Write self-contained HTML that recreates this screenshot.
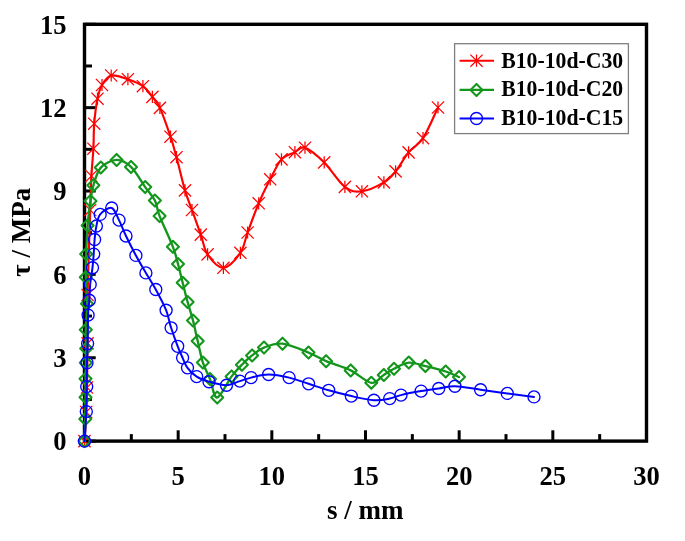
<!DOCTYPE html>
<html><head><meta charset="utf-8"><title>chart</title>
<style>
html,body{margin:0;padding:0;background:#fff;}
body{width:685px;height:541px;overflow:hidden;}
svg{display:block;}
text{font-family:"Liberation Serif",serif;font-weight:bold;fill:#000;}
.tk{font-size:26.6px;}
.lg{font-size:21.75px;}
.ax{font-size:27px;}
</style></head><body>
<svg width="685" height="541" viewBox="0 0 685 541">
<rect x="0" y="0" width="685" height="541" fill="#fff"/>

<rect x="84.50" y="24.30" width="562.00" height="416.80" fill="none" stroke="#000" stroke-width="3.4"/>
<line x1="84.50" y1="441.10" x2="84.50" y2="430.30" stroke="#000" stroke-width="3"/>
<line x1="131.33" y1="441.10" x2="131.33" y2="434.10" stroke="#000" stroke-width="3"/>
<line x1="178.17" y1="441.10" x2="178.17" y2="430.30" stroke="#000" stroke-width="3"/>
<line x1="225.00" y1="441.10" x2="225.00" y2="434.10" stroke="#000" stroke-width="3"/>
<line x1="271.83" y1="441.10" x2="271.83" y2="430.30" stroke="#000" stroke-width="3"/>
<line x1="318.67" y1="441.10" x2="318.67" y2="434.10" stroke="#000" stroke-width="3"/>
<line x1="365.50" y1="441.10" x2="365.50" y2="430.30" stroke="#000" stroke-width="3"/>
<line x1="412.33" y1="441.10" x2="412.33" y2="434.10" stroke="#000" stroke-width="3"/>
<line x1="459.17" y1="441.10" x2="459.17" y2="430.30" stroke="#000" stroke-width="3"/>
<line x1="506.00" y1="441.10" x2="506.00" y2="434.10" stroke="#000" stroke-width="3"/>
<line x1="552.83" y1="441.10" x2="552.83" y2="430.30" stroke="#000" stroke-width="3"/>
<line x1="599.67" y1="441.10" x2="599.67" y2="434.10" stroke="#000" stroke-width="3"/>
<line x1="646.50" y1="441.10" x2="646.50" y2="430.30" stroke="#000" stroke-width="3"/>
<line x1="84.50" y1="441.10" x2="95.70" y2="441.10" stroke="#000" stroke-width="3"/>
<line x1="84.50" y1="399.42" x2="92.00" y2="399.42" stroke="#000" stroke-width="3"/>
<line x1="84.50" y1="357.74" x2="95.70" y2="357.74" stroke="#000" stroke-width="3"/>
<line x1="84.50" y1="316.06" x2="92.00" y2="316.06" stroke="#000" stroke-width="3"/>
<line x1="84.50" y1="274.38" x2="95.70" y2="274.38" stroke="#000" stroke-width="3"/>
<line x1="84.50" y1="232.70" x2="92.00" y2="232.70" stroke="#000" stroke-width="3"/>
<line x1="84.50" y1="191.02" x2="95.70" y2="191.02" stroke="#000" stroke-width="3"/>
<line x1="84.50" y1="149.34" x2="92.00" y2="149.34" stroke="#000" stroke-width="3"/>
<line x1="84.50" y1="107.66" x2="95.70" y2="107.66" stroke="#000" stroke-width="3"/>
<line x1="84.50" y1="65.98" x2="92.00" y2="65.98" stroke="#000" stroke-width="3"/>
<line x1="84.50" y1="24.30" x2="95.70" y2="24.30" stroke="#000" stroke-width="3"/>
<text class="tk" transform="translate(84.50,484.6) scale(1,1.035)" text-anchor="middle">0</text>
<text class="tk" transform="translate(178.17,484.6) scale(1,1.035)" text-anchor="middle">5</text>
<text class="tk" transform="translate(271.83,484.6) scale(1,1.035)" text-anchor="middle">10</text>
<text class="tk" transform="translate(365.50,484.6) scale(1,1.035)" text-anchor="middle">15</text>
<text class="tk" transform="translate(459.17,484.6) scale(1,1.035)" text-anchor="middle">20</text>
<text class="tk" transform="translate(552.83,484.6) scale(1,1.035)" text-anchor="middle">25</text>
<text class="tk" transform="translate(646.50,484.6) scale(1,1.035)" text-anchor="middle">30</text>
<text class="tk" transform="translate(66.6,450.30) scale(1,1.035)" text-anchor="end">0</text>
<text class="tk" transform="translate(66.6,366.94) scale(1,1.035)" text-anchor="end">3</text>
<text class="tk" transform="translate(66.6,283.58) scale(1,1.035)" text-anchor="end">6</text>
<text class="tk" transform="translate(66.6,200.22) scale(1,1.035)" text-anchor="end">9</text>
<text class="tk" transform="translate(66.6,116.86) scale(1,1.035)" text-anchor="end">12</text>
<text class="tk" transform="translate(66.6,33.50) scale(1,1.035)" text-anchor="end">15</text>
<text class="ax" transform="translate(365.3,518.6) scale(1,1.03)" text-anchor="middle">s / mm</text>
<text class="ax" transform="translate(30.3,232.3) rotate(-90) scale(1,1.03)" text-anchor="middle">τ / MPa</text>
<path d="M84.50 441.10 C84.78 436.25 85.78 420.93 86.20 412.00 C86.62 403.07 86.77 398.95 87.00 387.50 C87.23 376.05 87.50 358.72 87.60 343.30 C87.70 327.88 87.17 317.22 87.60 295.00 C88.03 272.78 89.57 229.83 90.20 210.00 C90.83 190.17 90.87 186.22 91.40 176.00 C91.93 165.78 92.93 157.42 93.40 148.70 C93.87 139.98 93.52 132.03 94.20 123.70 C94.88 115.37 96.20 105.15 97.50 98.70 C98.80 92.25 99.72 88.87 102.00 85.00 C104.28 81.13 106.88 76.47 111.20 75.50 C115.52 74.53 122.62 77.42 127.90 79.20 C133.18 80.98 138.82 83.25 142.90 86.20 C146.98 89.15 149.57 93.28 152.40 96.90 C155.23 100.52 156.88 101.27 159.90 107.90 C162.92 114.53 167.73 128.48 170.50 136.70 C173.27 144.92 174.08 148.25 176.50 157.20 C178.92 166.15 182.42 181.60 185.00 190.40 C187.58 199.20 189.37 202.63 192.00 210.00 C194.63 217.37 198.20 227.20 200.80 234.60 C203.40 242.00 203.83 248.87 207.60 254.40 C211.37 259.93 217.93 268.07 223.40 267.80 C228.87 267.53 236.37 258.68 240.40 252.80 C244.43 246.92 244.55 240.75 247.60 232.50 C250.65 224.25 254.93 212.17 258.70 203.30 C262.47 194.43 266.40 186.62 270.20 179.30 C274.00 171.98 277.38 163.92 281.50 159.40 C285.62 154.88 290.98 154.15 294.90 152.20 C298.82 150.25 300.12 146.00 305.00 147.70 C309.88 149.40 317.55 155.87 324.20 162.40 C330.85 168.93 338.62 182.08 344.90 186.90 C351.18 191.72 355.40 192.05 361.90 191.30 C368.40 190.55 378.28 185.72 383.90 182.40 C389.52 179.08 391.48 176.40 395.60 171.40 C399.72 166.40 404.03 157.93 408.60 152.40 C413.17 146.87 418.10 145.68 423.00 138.20 C427.90 130.72 435.50 112.62 438.00 107.50" fill="none" stroke="#ff0000" stroke-width="2.15" stroke-linejoin="round" stroke-linecap="round"/>
<path d="M78.40 435.00L90.60 447.20M78.40 447.20L90.60 435.00M84.50 435.00L84.50 447.20" stroke="#ff0000" stroke-width="1.25" fill="none"/>
<path d="M80.10 405.90L92.30 418.10M80.10 418.10L92.30 405.90M86.20 405.90L86.20 418.10" stroke="#ff0000" stroke-width="1.25" fill="none"/>
<path d="M80.90 381.40L93.10 393.60M80.90 393.60L93.10 381.40M87.00 381.40L87.00 393.60" stroke="#ff0000" stroke-width="1.25" fill="none"/>
<path d="M81.50 337.20L93.70 349.40M81.50 349.40L93.70 337.20M87.60 337.20L87.60 349.40" stroke="#ff0000" stroke-width="1.25" fill="none"/>
<path d="M81.50 288.90L93.70 301.10M81.50 301.10L93.70 288.90M87.60 288.90L87.60 301.10" stroke="#ff0000" stroke-width="1.25" fill="none"/>
<path d="M84.10 203.90L96.30 216.10M84.10 216.10L96.30 203.90M90.20 203.90L90.20 216.10" stroke="#ff0000" stroke-width="1.25" fill="none"/>
<path d="M85.30 169.90L97.50 182.10M85.30 182.10L97.50 169.90M91.40 169.90L91.40 182.10" stroke="#ff0000" stroke-width="1.25" fill="none"/>
<path d="M87.30 142.60L99.50 154.80M87.30 154.80L99.50 142.60M93.40 142.60L93.40 154.80" stroke="#ff0000" stroke-width="1.25" fill="none"/>
<path d="M88.10 117.60L100.30 129.80M88.10 129.80L100.30 117.60M94.20 117.60L94.20 129.80" stroke="#ff0000" stroke-width="1.25" fill="none"/>
<path d="M91.40 92.60L103.60 104.80M91.40 104.80L103.60 92.60M97.50 92.60L97.50 104.80" stroke="#ff0000" stroke-width="1.25" fill="none"/>
<path d="M95.90 78.90L108.10 91.10M95.90 91.10L108.10 78.90M102.00 78.90L102.00 91.10" stroke="#ff0000" stroke-width="1.25" fill="none"/>
<path d="M105.10 69.40L117.30 81.60M105.10 81.60L117.30 69.40M111.20 69.40L111.20 81.60" stroke="#ff0000" stroke-width="1.25" fill="none"/>
<path d="M121.80 73.10L134.00 85.30M121.80 85.30L134.00 73.10M127.90 73.10L127.90 85.30" stroke="#ff0000" stroke-width="1.25" fill="none"/>
<path d="M136.80 80.10L149.00 92.30M136.80 92.30L149.00 80.10M142.90 80.10L142.90 92.30" stroke="#ff0000" stroke-width="1.25" fill="none"/>
<path d="M146.30 90.80L158.50 103.00M146.30 103.00L158.50 90.80M152.40 90.80L152.40 103.00" stroke="#ff0000" stroke-width="1.25" fill="none"/>
<path d="M153.80 101.80L166.00 114.00M153.80 114.00L166.00 101.80M159.90 101.80L159.90 114.00" stroke="#ff0000" stroke-width="1.25" fill="none"/>
<path d="M164.40 130.60L176.60 142.80M164.40 142.80L176.60 130.60M170.50 130.60L170.50 142.80" stroke="#ff0000" stroke-width="1.25" fill="none"/>
<path d="M170.40 151.10L182.60 163.30M170.40 163.30L182.60 151.10M176.50 151.10L176.50 163.30" stroke="#ff0000" stroke-width="1.25" fill="none"/>
<path d="M178.90 184.30L191.10 196.50M178.90 196.50L191.10 184.30M185.00 184.30L185.00 196.50" stroke="#ff0000" stroke-width="1.25" fill="none"/>
<path d="M185.90 203.90L198.10 216.10M185.90 216.10L198.10 203.90M192.00 203.90L192.00 216.10" stroke="#ff0000" stroke-width="1.25" fill="none"/>
<path d="M194.70 228.50L206.90 240.70M194.70 240.70L206.90 228.50M200.80 228.50L200.80 240.70" stroke="#ff0000" stroke-width="1.25" fill="none"/>
<path d="M201.50 248.30L213.70 260.50M201.50 260.50L213.70 248.30M207.60 248.30L207.60 260.50" stroke="#ff0000" stroke-width="1.25" fill="none"/>
<path d="M217.30 261.70L229.50 273.90M217.30 273.90L229.50 261.70M223.40 261.70L223.40 273.90" stroke="#ff0000" stroke-width="1.25" fill="none"/>
<path d="M234.30 246.70L246.50 258.90M234.30 258.90L246.50 246.70M240.40 246.70L240.40 258.90" stroke="#ff0000" stroke-width="1.25" fill="none"/>
<path d="M241.50 226.40L253.70 238.60M241.50 238.60L253.70 226.40M247.60 226.40L247.60 238.60" stroke="#ff0000" stroke-width="1.25" fill="none"/>
<path d="M252.60 197.20L264.80 209.40M252.60 209.40L264.80 197.20M258.70 197.20L258.70 209.40" stroke="#ff0000" stroke-width="1.25" fill="none"/>
<path d="M264.10 173.20L276.30 185.40M264.10 185.40L276.30 173.20M270.20 173.20L270.20 185.40" stroke="#ff0000" stroke-width="1.25" fill="none"/>
<path d="M275.40 153.30L287.60 165.50M275.40 165.50L287.60 153.30M281.50 153.30L281.50 165.50" stroke="#ff0000" stroke-width="1.25" fill="none"/>
<path d="M288.80 146.10L301.00 158.30M288.80 158.30L301.00 146.10M294.90 146.10L294.90 158.30" stroke="#ff0000" stroke-width="1.25" fill="none"/>
<path d="M298.90 141.60L311.10 153.80M298.90 153.80L311.10 141.60M305.00 141.60L305.00 153.80" stroke="#ff0000" stroke-width="1.25" fill="none"/>
<path d="M318.10 156.30L330.30 168.50M318.10 168.50L330.30 156.30M324.20 156.30L324.20 168.50" stroke="#ff0000" stroke-width="1.25" fill="none"/>
<path d="M338.80 180.80L351.00 193.00M338.80 193.00L351.00 180.80M344.90 180.80L344.90 193.00" stroke="#ff0000" stroke-width="1.25" fill="none"/>
<path d="M355.80 185.20L368.00 197.40M355.80 197.40L368.00 185.20M361.90 185.20L361.90 197.40" stroke="#ff0000" stroke-width="1.25" fill="none"/>
<path d="M377.80 176.30L390.00 188.50M377.80 188.50L390.00 176.30M383.90 176.30L383.90 188.50" stroke="#ff0000" stroke-width="1.25" fill="none"/>
<path d="M389.50 165.30L401.70 177.50M389.50 177.50L401.70 165.30M395.60 165.30L395.60 177.50" stroke="#ff0000" stroke-width="1.25" fill="none"/>
<path d="M402.50 146.30L414.70 158.50M402.50 158.50L414.70 146.30M408.60 146.30L408.60 158.50" stroke="#ff0000" stroke-width="1.25" fill="none"/>
<path d="M416.90 132.10L429.10 144.30M416.90 144.30L429.10 132.10M423.00 132.10L423.00 144.30" stroke="#ff0000" stroke-width="1.25" fill="none"/>
<path d="M431.90 101.40L444.10 113.60M431.90 113.60L444.10 101.40M438.00 101.40L438.00 113.60" stroke="#ff0000" stroke-width="1.25" fill="none"/>
<path d="M84.50 441.10 C84.63 437.43 85.13 426.42 85.30 419.10 C85.47 411.78 85.47 403.93 85.50 397.20 C85.53 390.47 85.45 384.43 85.50 378.70 C85.55 372.97 85.68 367.83 85.80 362.80 C85.92 357.77 86.20 354.02 86.20 348.50 C86.20 342.98 85.67 337.17 85.80 329.70 C85.93 322.23 87.00 312.43 87.00 303.70 C87.00 294.97 85.93 285.57 85.80 277.30 C85.67 269.03 85.90 262.73 86.20 254.10 C86.50 245.47 86.88 234.35 87.60 225.50 C88.32 216.65 89.53 207.70 90.50 201.00 C91.47 194.30 91.68 190.87 93.40 185.30 C95.12 179.73 96.93 171.83 100.80 167.60 C104.67 163.37 111.57 160.02 116.60 159.90 C121.63 159.78 126.23 162.37 131.00 166.90 C135.77 171.43 141.22 181.48 145.20 187.10 C149.18 192.72 152.50 195.77 154.90 200.60 C157.30 205.43 156.60 208.40 159.60 216.10 C162.60 223.80 169.83 238.82 172.90 246.80 C175.97 254.78 176.37 258.00 178.00 264.00 C179.63 270.00 181.10 276.47 182.70 282.80 C184.30 289.13 185.88 295.72 187.60 302.00 C189.32 308.28 191.32 313.98 193.00 320.50 C194.68 327.02 196.05 334.08 197.70 341.10 C199.35 348.12 200.85 356.27 202.90 362.60 C204.95 368.93 207.62 373.28 210.00 379.10 C212.38 384.92 213.60 397.95 217.20 397.50 C220.80 397.05 227.48 381.87 231.60 376.40 C235.72 370.93 238.48 368.20 241.90 364.70 C245.32 361.20 248.42 358.25 252.10 355.40 C255.78 352.55 258.93 349.55 264.00 347.60 C269.07 345.65 275.08 342.87 282.50 343.70 C289.92 344.53 301.23 349.68 308.50 352.60 C315.77 355.52 319.07 358.23 326.10 361.20 C333.13 364.17 343.17 366.80 350.70 370.40 C358.23 374.00 365.78 382.05 371.30 382.80 C376.82 383.55 380.02 377.23 383.80 374.90 C387.58 372.57 389.83 370.85 394.00 368.80 C398.17 366.75 403.57 363.05 408.80 362.60 C414.03 362.15 419.25 364.62 425.40 366.10 C431.55 367.58 440.10 369.68 445.70 371.50 C451.30 373.32 456.78 376.08 459.00 377.00" fill="none" stroke="#14961c" stroke-width="2.35" stroke-linejoin="round" stroke-linecap="round"/>
<path d="M84.50 435.10L90.50 441.10L84.50 447.10L78.50 441.10Z" stroke="#14961c" stroke-width="2.10" fill="none" stroke-linejoin="round"/>
<path d="M85.30 413.10L91.30 419.10L85.30 425.10L79.30 419.10Z" stroke="#14961c" stroke-width="2.10" fill="none" stroke-linejoin="round"/>
<path d="M85.50 391.20L91.50 397.20L85.50 403.20L79.50 397.20Z" stroke="#14961c" stroke-width="2.10" fill="none" stroke-linejoin="round"/>
<path d="M85.50 372.70L91.50 378.70L85.50 384.70L79.50 378.70Z" stroke="#14961c" stroke-width="2.10" fill="none" stroke-linejoin="round"/>
<path d="M85.80 356.80L91.80 362.80L85.80 368.80L79.80 362.80Z" stroke="#14961c" stroke-width="2.10" fill="none" stroke-linejoin="round"/>
<path d="M86.20 342.50L92.20 348.50L86.20 354.50L80.20 348.50Z" stroke="#14961c" stroke-width="2.10" fill="none" stroke-linejoin="round"/>
<path d="M85.80 323.70L91.80 329.70L85.80 335.70L79.80 329.70Z" stroke="#14961c" stroke-width="2.10" fill="none" stroke-linejoin="round"/>
<path d="M87.00 297.70L93.00 303.70L87.00 309.70L81.00 303.70Z" stroke="#14961c" stroke-width="2.10" fill="none" stroke-linejoin="round"/>
<path d="M85.80 271.30L91.80 277.30L85.80 283.30L79.80 277.30Z" stroke="#14961c" stroke-width="2.10" fill="none" stroke-linejoin="round"/>
<path d="M86.20 248.10L92.20 254.10L86.20 260.10L80.20 254.10Z" stroke="#14961c" stroke-width="2.10" fill="none" stroke-linejoin="round"/>
<path d="M87.60 219.50L93.60 225.50L87.60 231.50L81.60 225.50Z" stroke="#14961c" stroke-width="2.10" fill="none" stroke-linejoin="round"/>
<path d="M90.50 195.00L96.50 201.00L90.50 207.00L84.50 201.00Z" stroke="#14961c" stroke-width="2.10" fill="none" stroke-linejoin="round"/>
<path d="M93.40 179.30L99.40 185.30L93.40 191.30L87.40 185.30Z" stroke="#14961c" stroke-width="2.10" fill="none" stroke-linejoin="round"/>
<path d="M100.80 161.60L106.80 167.60L100.80 173.60L94.80 167.60Z" stroke="#14961c" stroke-width="2.10" fill="none" stroke-linejoin="round"/>
<path d="M116.60 153.90L122.60 159.90L116.60 165.90L110.60 159.90Z" stroke="#14961c" stroke-width="2.10" fill="none" stroke-linejoin="round"/>
<path d="M131.00 160.90L137.00 166.90L131.00 172.90L125.00 166.90Z" stroke="#14961c" stroke-width="2.10" fill="none" stroke-linejoin="round"/>
<path d="M145.20 181.10L151.20 187.10L145.20 193.10L139.20 187.10Z" stroke="#14961c" stroke-width="2.10" fill="none" stroke-linejoin="round"/>
<path d="M154.90 194.60L160.90 200.60L154.90 206.60L148.90 200.60Z" stroke="#14961c" stroke-width="2.10" fill="none" stroke-linejoin="round"/>
<path d="M159.60 210.10L165.60 216.10L159.60 222.10L153.60 216.10Z" stroke="#14961c" stroke-width="2.10" fill="none" stroke-linejoin="round"/>
<path d="M172.90 240.80L178.90 246.80L172.90 252.80L166.90 246.80Z" stroke="#14961c" stroke-width="2.10" fill="none" stroke-linejoin="round"/>
<path d="M178.00 258.00L184.00 264.00L178.00 270.00L172.00 264.00Z" stroke="#14961c" stroke-width="2.10" fill="none" stroke-linejoin="round"/>
<path d="M182.70 276.80L188.70 282.80L182.70 288.80L176.70 282.80Z" stroke="#14961c" stroke-width="2.10" fill="none" stroke-linejoin="round"/>
<path d="M187.60 296.00L193.60 302.00L187.60 308.00L181.60 302.00Z" stroke="#14961c" stroke-width="2.10" fill="none" stroke-linejoin="round"/>
<path d="M193.00 314.50L199.00 320.50L193.00 326.50L187.00 320.50Z" stroke="#14961c" stroke-width="2.10" fill="none" stroke-linejoin="round"/>
<path d="M197.70 335.10L203.70 341.10L197.70 347.10L191.70 341.10Z" stroke="#14961c" stroke-width="2.10" fill="none" stroke-linejoin="round"/>
<path d="M202.90 356.60L208.90 362.60L202.90 368.60L196.90 362.60Z" stroke="#14961c" stroke-width="2.10" fill="none" stroke-linejoin="round"/>
<path d="M210.00 373.10L216.00 379.10L210.00 385.10L204.00 379.10Z" stroke="#14961c" stroke-width="2.10" fill="none" stroke-linejoin="round"/>
<path d="M217.20 391.50L223.20 397.50L217.20 403.50L211.20 397.50Z" stroke="#14961c" stroke-width="2.10" fill="none" stroke-linejoin="round"/>
<path d="M231.60 370.40L237.60 376.40L231.60 382.40L225.60 376.40Z" stroke="#14961c" stroke-width="2.10" fill="none" stroke-linejoin="round"/>
<path d="M241.90 358.70L247.90 364.70L241.90 370.70L235.90 364.70Z" stroke="#14961c" stroke-width="2.10" fill="none" stroke-linejoin="round"/>
<path d="M252.10 349.40L258.10 355.40L252.10 361.40L246.10 355.40Z" stroke="#14961c" stroke-width="2.10" fill="none" stroke-linejoin="round"/>
<path d="M264.00 341.60L270.00 347.60L264.00 353.60L258.00 347.60Z" stroke="#14961c" stroke-width="2.10" fill="none" stroke-linejoin="round"/>
<path d="M282.50 337.70L288.50 343.70L282.50 349.70L276.50 343.70Z" stroke="#14961c" stroke-width="2.10" fill="none" stroke-linejoin="round"/>
<path d="M308.50 346.60L314.50 352.60L308.50 358.60L302.50 352.60Z" stroke="#14961c" stroke-width="2.10" fill="none" stroke-linejoin="round"/>
<path d="M326.10 355.20L332.10 361.20L326.10 367.20L320.10 361.20Z" stroke="#14961c" stroke-width="2.10" fill="none" stroke-linejoin="round"/>
<path d="M350.70 364.40L356.70 370.40L350.70 376.40L344.70 370.40Z" stroke="#14961c" stroke-width="2.10" fill="none" stroke-linejoin="round"/>
<path d="M371.30 376.80L377.30 382.80L371.30 388.80L365.30 382.80Z" stroke="#14961c" stroke-width="2.10" fill="none" stroke-linejoin="round"/>
<path d="M383.80 368.90L389.80 374.90L383.80 380.90L377.80 374.90Z" stroke="#14961c" stroke-width="2.10" fill="none" stroke-linejoin="round"/>
<path d="M394.00 362.80L400.00 368.80L394.00 374.80L388.00 368.80Z" stroke="#14961c" stroke-width="2.10" fill="none" stroke-linejoin="round"/>
<path d="M408.80 356.60L414.80 362.60L408.80 368.60L402.80 362.60Z" stroke="#14961c" stroke-width="2.10" fill="none" stroke-linejoin="round"/>
<path d="M425.40 360.10L431.40 366.10L425.40 372.10L419.40 366.10Z" stroke="#14961c" stroke-width="2.10" fill="none" stroke-linejoin="round"/>
<path d="M445.70 365.50L451.70 371.50L445.70 377.50L439.70 371.50Z" stroke="#14961c" stroke-width="2.10" fill="none" stroke-linejoin="round"/>
<path d="M459.00 371.00L465.00 377.00L459.00 383.00L453.00 377.00Z" stroke="#14961c" stroke-width="2.10" fill="none" stroke-linejoin="round"/>
<path d="M84.50 441.10 C84.80 436.18 85.93 420.68 86.30 411.60 C86.67 402.52 86.58 394.73 86.70 386.60 C86.82 378.47 86.85 369.97 87.00 362.80 C87.15 355.63 87.42 351.55 87.60 343.60 C87.78 335.65 87.82 322.33 88.10 315.10 C88.38 307.87 88.95 305.32 89.30 300.20 C89.65 295.08 89.67 289.82 90.20 284.40 C90.73 278.98 91.92 272.75 92.50 267.70 C93.08 262.65 93.35 258.80 93.70 254.10 C94.05 249.40 94.15 244.18 94.60 239.50 C95.05 234.82 95.47 230.18 96.40 226.00 C97.33 221.82 97.65 217.40 100.20 214.40 C102.75 211.40 108.57 207.05 111.70 208.00 C114.83 208.95 116.62 215.43 119.00 220.10 C121.38 224.77 123.18 230.12 126.00 236.00 C128.82 241.88 132.58 249.25 135.90 255.40 C139.22 261.55 142.58 267.22 145.90 272.90 C149.22 278.58 152.43 283.28 155.80 289.50 C159.17 295.72 163.55 303.82 166.10 310.20 C168.65 316.58 169.17 321.78 171.10 327.80 C173.03 333.82 175.78 341.30 177.70 346.30 C179.62 351.30 180.97 354.22 182.60 357.80 C184.23 361.38 185.15 364.67 187.50 367.80 C189.85 370.93 193.12 374.28 196.70 376.60 C200.28 378.92 204.03 380.27 209.00 381.70 C213.97 383.13 221.37 385.30 226.50 385.20 C231.63 385.10 235.70 382.37 239.80 381.10 C243.90 379.83 246.30 378.70 251.10 377.60 C255.90 376.50 262.27 374.50 268.60 374.50 C274.93 374.50 282.43 376.05 289.10 377.60 C295.77 379.15 302.00 381.68 308.60 383.80 C315.20 385.92 321.58 388.25 328.70 390.30 C335.82 392.35 343.77 394.45 351.30 396.10 C358.83 397.75 367.50 399.78 373.90 400.20 C380.30 400.62 385.18 399.45 389.70 398.60 C394.22 397.75 395.77 396.35 401.00 395.10 C406.23 393.85 414.82 392.20 421.10 391.10 C427.38 390.00 433.07 389.32 438.70 388.50 C444.33 387.68 447.92 386.00 454.90 386.20 C461.88 386.40 471.87 388.50 480.60 389.70 C489.33 390.90 498.40 392.20 507.30 393.40 C516.20 394.60 529.55 396.32 534.00 396.90" fill="none" stroke="#0000ff" stroke-width="2.00" stroke-linejoin="round" stroke-linecap="round"/>
<circle cx="84.50" cy="441.10" r="6.00" stroke="#0000ff" stroke-width="1.35" fill="none"/>
<circle cx="86.30" cy="411.60" r="6.00" stroke="#0000ff" stroke-width="1.35" fill="none"/>
<circle cx="86.70" cy="386.60" r="6.00" stroke="#0000ff" stroke-width="1.35" fill="none"/>
<circle cx="87.00" cy="362.80" r="6.00" stroke="#0000ff" stroke-width="1.35" fill="none"/>
<circle cx="87.60" cy="343.60" r="6.00" stroke="#0000ff" stroke-width="1.35" fill="none"/>
<circle cx="88.10" cy="315.10" r="6.00" stroke="#0000ff" stroke-width="1.35" fill="none"/>
<circle cx="89.30" cy="300.20" r="6.00" stroke="#0000ff" stroke-width="1.35" fill="none"/>
<circle cx="90.20" cy="284.40" r="6.00" stroke="#0000ff" stroke-width="1.35" fill="none"/>
<circle cx="92.50" cy="267.70" r="6.00" stroke="#0000ff" stroke-width="1.35" fill="none"/>
<circle cx="93.70" cy="254.10" r="6.00" stroke="#0000ff" stroke-width="1.35" fill="none"/>
<circle cx="94.60" cy="239.50" r="6.00" stroke="#0000ff" stroke-width="1.35" fill="none"/>
<circle cx="96.40" cy="226.00" r="6.00" stroke="#0000ff" stroke-width="1.35" fill="none"/>
<circle cx="100.20" cy="214.40" r="6.00" stroke="#0000ff" stroke-width="1.35" fill="none"/>
<circle cx="111.70" cy="208.00" r="6.00" stroke="#0000ff" stroke-width="1.35" fill="none"/>
<circle cx="119.00" cy="220.10" r="6.00" stroke="#0000ff" stroke-width="1.35" fill="none"/>
<circle cx="126.00" cy="236.00" r="6.00" stroke="#0000ff" stroke-width="1.35" fill="none"/>
<circle cx="135.90" cy="255.40" r="6.00" stroke="#0000ff" stroke-width="1.35" fill="none"/>
<circle cx="145.90" cy="272.90" r="6.00" stroke="#0000ff" stroke-width="1.35" fill="none"/>
<circle cx="155.80" cy="289.50" r="6.00" stroke="#0000ff" stroke-width="1.35" fill="none"/>
<circle cx="166.10" cy="310.20" r="6.00" stroke="#0000ff" stroke-width="1.35" fill="none"/>
<circle cx="171.10" cy="327.80" r="6.00" stroke="#0000ff" stroke-width="1.35" fill="none"/>
<circle cx="177.70" cy="346.30" r="6.00" stroke="#0000ff" stroke-width="1.35" fill="none"/>
<circle cx="182.60" cy="357.80" r="6.00" stroke="#0000ff" stroke-width="1.35" fill="none"/>
<circle cx="187.50" cy="367.80" r="6.00" stroke="#0000ff" stroke-width="1.35" fill="none"/>
<circle cx="196.70" cy="376.60" r="6.00" stroke="#0000ff" stroke-width="1.35" fill="none"/>
<circle cx="209.00" cy="381.70" r="6.00" stroke="#0000ff" stroke-width="1.35" fill="none"/>
<circle cx="226.50" cy="385.20" r="6.00" stroke="#0000ff" stroke-width="1.35" fill="none"/>
<circle cx="239.80" cy="381.10" r="6.00" stroke="#0000ff" stroke-width="1.35" fill="none"/>
<circle cx="251.10" cy="377.60" r="6.00" stroke="#0000ff" stroke-width="1.35" fill="none"/>
<circle cx="268.60" cy="374.50" r="6.00" stroke="#0000ff" stroke-width="1.35" fill="none"/>
<circle cx="289.10" cy="377.60" r="6.00" stroke="#0000ff" stroke-width="1.35" fill="none"/>
<circle cx="308.60" cy="383.80" r="6.00" stroke="#0000ff" stroke-width="1.35" fill="none"/>
<circle cx="328.70" cy="390.30" r="6.00" stroke="#0000ff" stroke-width="1.35" fill="none"/>
<circle cx="351.30" cy="396.10" r="6.00" stroke="#0000ff" stroke-width="1.35" fill="none"/>
<circle cx="373.90" cy="400.20" r="6.00" stroke="#0000ff" stroke-width="1.35" fill="none"/>
<circle cx="389.70" cy="398.60" r="6.00" stroke="#0000ff" stroke-width="1.35" fill="none"/>
<circle cx="401.00" cy="395.10" r="6.00" stroke="#0000ff" stroke-width="1.35" fill="none"/>
<circle cx="421.10" cy="391.10" r="6.00" stroke="#0000ff" stroke-width="1.35" fill="none"/>
<circle cx="438.70" cy="388.50" r="6.00" stroke="#0000ff" stroke-width="1.35" fill="none"/>
<circle cx="454.90" cy="386.20" r="6.00" stroke="#0000ff" stroke-width="1.35" fill="none"/>
<circle cx="480.60" cy="389.70" r="6.00" stroke="#0000ff" stroke-width="1.35" fill="none"/>
<circle cx="507.30" cy="393.40" r="6.00" stroke="#0000ff" stroke-width="1.35" fill="none"/>
<circle cx="534.00" cy="396.90" r="6.00" stroke="#0000ff" stroke-width="1.35" fill="none"/>
<rect x="454.6" y="43.7" width="173.8" height="89.9" fill="#fff" stroke="#808080" stroke-width="1.3"/>
<line x1="459.6" y1="60.70" x2="494" y2="60.70" stroke="#ff0000" stroke-width="2.00"/>
<path d="M470.40 54.60L482.60 66.80M470.40 66.80L482.60 54.60M476.50 54.60L476.50 66.80" stroke="#ff0000" stroke-width="1.25" fill="none"/>
<text class="lg" transform="translate(501.2,67.70) scale(1,1.1)">B10-10d-C30</text>
<line x1="459.6" y1="89.90" x2="494" y2="89.90" stroke="#14961c" stroke-width="2.20"/>
<path d="M476.50 83.90L482.50 89.90L476.50 95.90L470.50 89.90Z" stroke="#14961c" stroke-width="2.10" fill="none" stroke-linejoin="round"/>
<text class="lg" transform="translate(501.2,96.20) scale(1,1.1)">B10-10d-C20</text>
<line x1="459.6" y1="118.50" x2="494" y2="118.50" stroke="#0000ff" stroke-width="1.90"/>
<circle cx="476.50" cy="118.50" r="6.00" stroke="#0000ff" stroke-width="1.35" fill="none"/>
<text class="lg" transform="translate(501.2,125.10) scale(1,1.1)">B10-10d-C15</text>
</svg></body></html>
